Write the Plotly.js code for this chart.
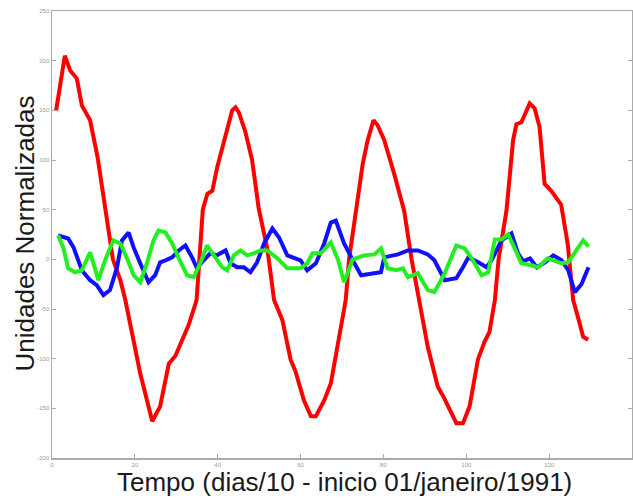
<!DOCTYPE html>
<html>
<head>
<meta charset="utf-8">
<script src="https://cdn.plot.ly/plotly-3.0.1.min.js"></script>
<style>html,body{margin:0;padding:0;background:#fff;}#chart{width:633px;height:500px;}</style>
</head>
<body>
<div id="chart"></div>
<script>
// Red series (time in dias/10, normalized units)
const redX = [1,3.1,4.4,6,7.2,9.2,11,13.3,14.7,16.5,17.7,21.3,24.2,26.1,28.2,29.8,31.4,33,34.9,36.4,37.5,38.7,39.9,41.9,43.5,44.3,45.1,46.7,48.3,49.9,52,53.6,55.6,57.6,58.8,60.8,62.5,63.7,65.7,67.3,68.9,69.7,70.9,71.7,73.4,75,76.2,77.6,78.6,80.2,82.6,85,86.8,88.7,90.7,93.1,94.7,97.6,99.2,100.8,102.8,104.4,105.6,106.9,107.8,109.7,111.3,112.1,113.3,115.3,116.5,117.7,118.9,120.5,122.9,124.5,125.8,127.4,128.2,129.4];
const redY = [150,205,190,182,155,140,103,39,0,-21,-41,-115,-163,-148,-105,-97,-82,-66,-41,50,66,69,93,123,150,153,148,128,100,51,10,-41,-61,-101,-113,-142,-158,-158,-142,-125,-88,-68,-41,0,53,96,120,140,135,120,86,49,0,-41,-88,-128,-140,-165,-165,-148,-101,-83,-73,-41,0,49,120,136,138,157,152,133,76,69,55,15,-41,-65,-78,-81];

// Blue series
const blueX = [1.5,3.9,5.2,7.2,9.2,10.8,12.4,14,15.7,16.9,18.5,19.7,21.3,23.3,24.9,26.1,27.4,29,30.6,32.2,33.8,35,36.6,38.2,39.8,41.9,43.1,44.7,46.3,47.9,49.5,51.2,53.2,54.8,56.8,58.8,60,61.6,63.7,65.7,67.3,68.5,70.5,73,74.6,77.8,79.4,80.2,83.5,85.9,88.3,90.7,92.3,94.8,97.6,99.2,100.5,102.9,104.9,106.1,108.5,110.9,112.5,113.7,115.4,117,119,121,123,124.6,126.2,127.8,129.5];
const blueY = [24,21,12,-11,-21,-26,-36,-31,-8,19,27,12,-4,-23,-16,-3,-1,2,9,14,2,-9,-1,6,4,9,-4,-8,-8,-13,-3,16,31,22,4,1,-1,-11,-4,16,37,39,16,-4,-16,-14,-13,2,5,9,9,5,-1,-21,-19,-8,2,-3,-8,-1,19,26,6,-2,1,-8,-3,4,-1,-11,-33,-25,-8];

// Green series
const greenX = [1.5,2.7,3.9,5.5,7.2,9.2,11.2,12.8,14.8,16.5,18.1,19.7,21.3,22.9,24.5,25.7,27.4,29,30.6,32.6,34.2,35.8,37.4,39,41.1,42.3,43.9,45.5,47.1,48.7,50.3,52,54.4,56.8,60,61.6,62.9,64.9,67.3,69,70.5,72.6,75.4,77.8,79.4,81,83.1,84.7,85.9,88.3,90.7,92.3,94.8,97.6,99.6,101.3,103.7,105.3,106.9,108.5,110.1,111.7,113.3,115.7,117.3,119.7,121.3,122.9,124.6,127,128.2,129.5];
const greenY = [24,12,-9,-13,-11,7,-21,-1,19,16,1,-16,-23,-4,19,29,27,16,1,-16,-18,-4,14,4,-8,-11,4,9,4,6,9,9,1,-9,-9,-4,6,6,17,0,-23,0,4,5,11,-9,-11,-9,-18,-14,-31,-33,-14,14,11,1,-16,-13,20,20,25,11,-4,-6,-8,1,-1,-4,-3,11,19,13];

const xTicks = [0,20,40,60,80,100,120,140];
const yTicks = [-200,-150,-100,-50,0,50,100,150,200,250];

const xTitle = 'Tempo (dias/10 - inicio 01/janeiro/1991)';
const yTitle = 'Unidades Normalizadas';

const lw = 4;
const traces = [
  {x: redX, y: redY, type: 'scatter', mode: 'lines', line: {color: '#ff0000', width: lw}, hoverinfo: 'skip'},
  {x: blueX, y: blueY, type: 'scatter', mode: 'lines', line: {color: '#1010ff', width: lw}, hoverinfo: 'skip'},
  {x: greenX, y: greenY, type: 'scatter', mode: 'lines', line: {color: '#22ee22', width: lw}, hoverinfo: 'skip'}
];

const titleFont = {size: 26, color: '#1a1a1a', family: 'Liberation Sans, Arial, sans-serif'};

const layout = {
  width: 633, height: 500,
  margin: {l: 52, r: 1, t: 11, b: 42},
  paper_bgcolor: '#ffffff', plot_bgcolor: '#ffffff',
  showlegend: false,
  font: {family: 'Liberation Sans, Arial, sans-serif', color: '#999'},
  xaxis: {
    range: [0, 140], tickvals: xTicks, ticktext: xTicks.map(String),
    ticks: 'inside', ticklen: 4, tickcolor: '#aaa', tickwidth: 1,
    showline: true, linecolor: '#aaa', linewidth: 1.5, mirror: true,
    showgrid: false, zeroline: false,
    tickfont: {size: 6, color: '#999'}
  },
  yaxis: {
    range: [-200, 250], tickvals: yTicks, ticktext: yTicks.map(String),
    ticks: 'inside', ticklen: 4, tickcolor: '#aaa', tickwidth: 1,
    showline: true, linecolor: '#aaa', linewidth: 1.5, mirror: 'ticks',
    showgrid: false, zeroline: false,
    tickfont: {size: 6, color: '#999'}
  },
  annotations: [
    {text: xTitle, xref: 'paper', yref: 'paper', x: 0.5, y: 0, xanchor: 'center', yanchor: 'middle',
     yshift: -24, xshift: 2, showarrow: false, font: titleFont},
    {text: yTitle, xref: 'paper', yref: 'paper', x: 0, y: 0.5, xanchor: 'center', yanchor: 'middle',
     xshift: -28, yshift: 1, textangle: -90, showarrow: false, font: titleFont}
  ]
};

Plotly.newPlot('chart', traces, layout, {staticPlot: true, displayModeBar: false});
</script>
</body>
</html>
